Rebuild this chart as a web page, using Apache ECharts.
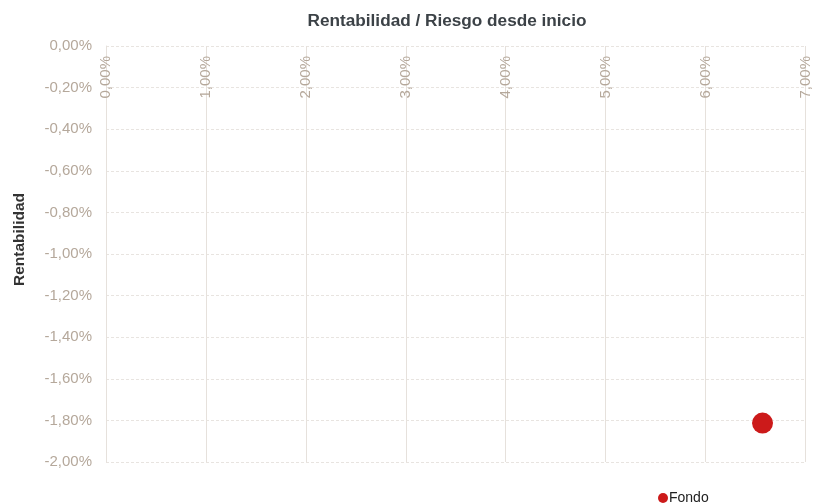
<!DOCTYPE html>
<html><head><meta charset="utf-8">
<script src="https://cdn.jsdelivr.net/npm/echarts@6/dist/echarts.min.js"></script>
<style>html,body{margin:0;padding:0;background:#fff}#c{width:813px;height:504px}</style>
</head><body><div id="c"></div>
<script>
const seriesName = 'Fondo';
const fondoPoint = [[6.57, -1.813]];
const xTicks = [0, 1, 2, 3, 4, 5, 6, 7];
const yTicks = [0, -0.2, -0.4, -0.6, -0.8, -1.0, -1.2, -1.4, -1.6, -1.8, -2.0];
const fmt = v => v.toFixed(2).replace('.', ',') + '%';
const FF = 'Liberation Sans';
const chart = echarts.init(document.getElementById('c'));
const lab = '#b5a89b';
chart.setOption({
  animation: false,
  textStyle: { fontFamily: FF },
  title: { text: 'Rentabilidad / Riesgo desde inicio', left: 442, top: 8, textAlign: 'center',
    textStyle: { fontSize: 17.2, fontWeight: 'bold', color: '#3c4247', fontFamily: FF } },
  legend: { data: [seriesName], left: 653, top: 486, itemWidth: 10, itemHeight: 10, itemGap: 2,
    icon: 'circle', textStyle: { fontSize: 14, color: '#222', fontFamily: FF, padding: [0,0,0,-4] } },
  grid: { left: 106, right: 5, top: 46, bottom: 42, containLabel: false },
  graphic: [{ type: 'text', left: 12, top: 193, rotation: Math.PI / 2,
    style: { text: 'Rentabilidad', font: 'bold 15.5px "Liberation Sans"', fill: '#333' } }],
  xAxis: { type: 'value', position: 'top', min: 0, max: 7, interval: 1,
    axisLine: { show: false }, axisTick: { show: false },
    splitLine: { show: true, lineStyle: { color: '#e6e1dc', type: 'solid' } },
    axisLabel: { inside: true, rotate: 90, margin: 10, fontSize: 15, color: lab, fontFamily: FF, formatter: v => fmt(v) } },
  yAxis: { type: 'value', min: -2, max: 0, interval: 0.2,
    axisLine: { show: true, lineStyle: { color: '#e6e1dc' } }, axisTick: { show: false },
    splitLine: { show: true, lineStyle: { color: '#e8e4e0', type: [3, 2] } },
    axisLabel: { fontSize: 15, color: lab, margin: 14, fontFamily: FF, formatter: v => fmt(v) } },
  series: [{ name: seriesName, type: 'scatter', data: fondoPoint, symbolSize: 21,
    itemStyle: { color: '#cc1a1a', opacity: 1 } }]
});
</script></body></html>
